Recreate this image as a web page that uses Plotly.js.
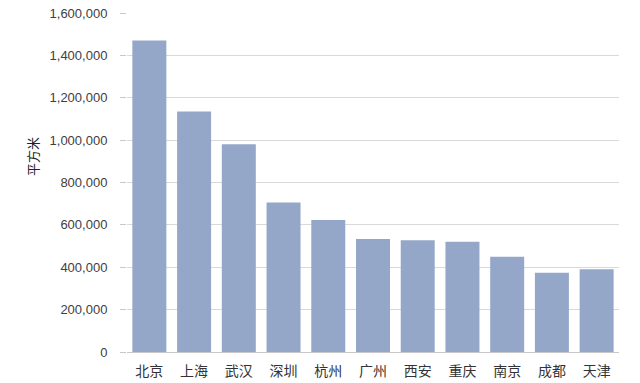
<!DOCTYPE html>
<html>
<head>
<meta charset="utf-8">
<script src="https://cdn.plot.ly/plotly-3.0.1.min.js"></script>
<style>
  html, body { margin: 0; padding: 0; background: #fff; }
  #chart { width: 640px; height: 383px; }
</style>
</head>
<body>
<div id="chart"></div>
<script>
// 各城市面积（平方米）
const cities = ['北京', '上海', '武汉', '深圳', '杭州', '广州', '西安', '重庆', '南京', '成都', '天津'];
const areas = [1470000, 1135000, 981000, 706000, 623000, 533000, 528000, 520000, 450000, 374000, 390000];
const yTicks = [0, 200000, 400000, 600000, 800000, 1000000, 1200000, 1400000, 1600000];
const yUnit = '平方米';

const fontFamily = '"Liberation Sans", Arial, "Noto Sans CJK SC", sans-serif';

const trace = {
  type: 'bar',
  x: cities,
  y: areas,
  marker: { color: '#94a7c9', line: { width: 0 } },
  hoverinfo: 'x+y'
};

const layout = {
  width: 640,
  height: 383,
  margin: { l: 127, r: 21, t: 13, b: 31 },
  paper_bgcolor: '#ffffff',
  plot_bgcolor: '#ffffff',
  bargap: 0.24,
  showlegend: false,
  font: { family: fontFamily, size: 13, color: '#404040' },
  xaxis: {
    type: 'category',
    showline: true,
    linecolor: '#c8c8c8',
    linewidth: 1,
    showgrid: false,
    ticks: '',
    ticklabelstandoff: 6,
    tickfont: { family: '"Noto Sans CJK SC", sans-serif', size: 14, color: '#333333' },
    fixedrange: true
  },
  yaxis: {
    range: [0, 1600000],
    tickvals: yTicks,
    tickformat: ',d',
    ticks: 'outside',
    ticklen: 6,
    tickcolor: '#c8c8c8',
    ticklabelstandoff: 10,
    showgrid: true,
    gridcolor: '#d9d9d9',
    gridwidth: 1,
    zeroline: false,
    showline: false,
    tickfont: { size: 13, color: '#404040' },
    fixedrange: true
  },
  // 纵轴单位，竖排放在刻度标签左侧、略高于中线
  annotations: [{
    text: yUnit,
    xref: 'paper', yref: 'paper',
    x: -0.193, y: 0.575,
    xanchor: 'center', yanchor: 'middle',
    textangle: -90,
    showarrow: false,
    font: { family: '"Noto Sans CJK SC", sans-serif', size: 13, color: '#222222' }
  }]
};

Plotly.newPlot('chart', [trace], layout, { displayModeBar: false, staticPlot: true });
</script>
</body>
</html>
